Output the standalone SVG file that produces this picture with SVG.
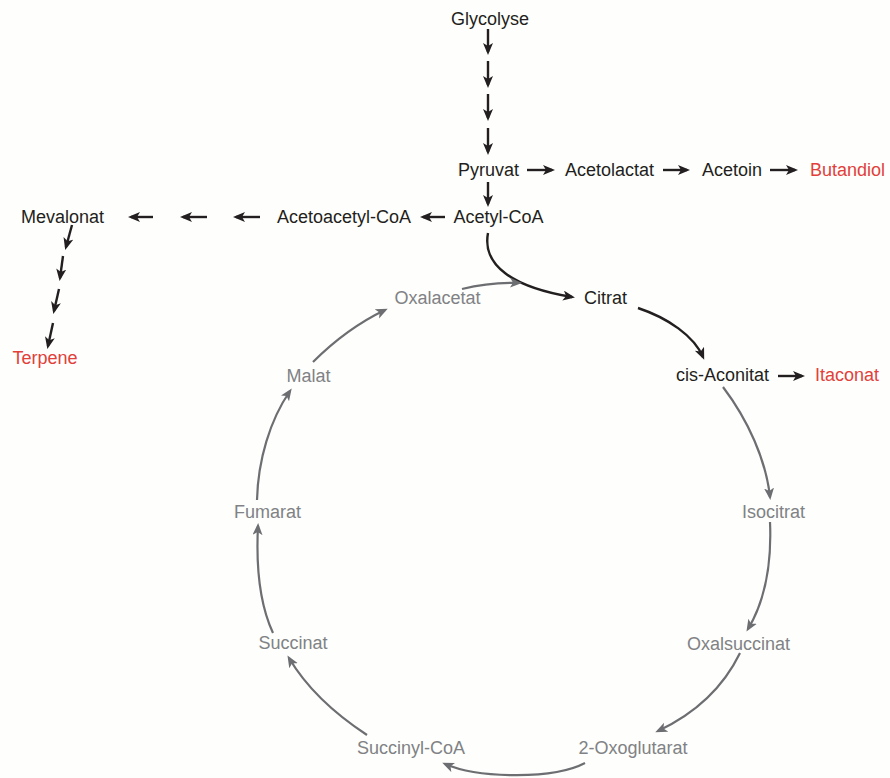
<svg xmlns="http://www.w3.org/2000/svg" width="890" height="778" viewBox="0 0 890 778">
<defs>
<marker id="ab" markerUnits="userSpaceOnUse" markerWidth="14" markerHeight="12" refX="9" refY="5" orient="auto"><path d="M0,0 L12,5 L0,10 L3,5 z" fill="#231f20"/></marker>
<marker id="ag" markerUnits="userSpaceOnUse" markerWidth="14" markerHeight="12" refX="9" refY="5" orient="auto"><path d="M0,0 L12,5 L0,10 L3,5 z" fill="#6d6e71"/></marker>
<style>
text{font-family:"Liberation Sans",Arial,sans-serif;font-size:18px;text-anchor:middle}
.k{fill:#231f20}.g{fill:#808285}.r{fill:#e2403a}
.cb{fill:none;stroke:#231f20;stroke-width:2.4;marker-end:url(#ab)}
.cg{fill:none;stroke:#6d6e71;stroke-width:2.2;marker-end:url(#ag)}
</style>
</defs>
<rect width="890" height="778" fill="#fefefc"/>
<g id="connectors">
<path class="cb" d="M488,29 V52"/>
<path class="cb" d="M488,61 V85"/>
<path class="cb" d="M488,94 V118"/>
<path class="cb" d="M488,128 V152"/>
<path class="cb" d="M488,182 V204"/>
<path class="cb" d="M527,170 H552"/>
<path class="cb" d="M663,170 H687"/>
<path class="cb" d="M770,170 H795"/>
<path class="cb" d="M445,217 H423"/>
<path class="cb" d="M260,217 H236"/>
<path class="cb" d="M207,217 H183"/>
<path class="cb" d="M153,217 H131"/>
<path class="cb" d="M72,225 L66,247"/>
<path class="cb" d="M63,256 L60,278"/>
<path class="cb" d="M59,289 L54,311"/>
<path class="cb" d="M53,323 L48,346"/>
<path class="cb" d="M488,233 C482,265 512,287 572,297"/>
<path class="cb" d="M638,308 C668,318 694,336 703,357"/>
<path class="cb" d="M778,376 H802"/>
<path class="cg" d="M462,289 Q490,282 519,283"/>
<path class="cg" d="M723,387 C748,420 766,460 770,497"/>
<path class="cg" d="M770,522 C772,568 763,604 748,629"/>
<path class="cg" d="M740,653 C722,690 692,715 658,731"/>
<path class="cg" d="M585,763 C555,779 480,779 445,764"/>
<path class="cg" d="M367,735 C332,712 305,685 289,658"/>
<path class="cg" d="M273,633 C260,605 256,565 258,526"/>
<path class="cg" d="M257,500 C258,460 270,420 290,391"/>
<path class="cg" d="M313,362 C335,340 360,322 385,310"/>
</g>
<g id="glycolyse"><text class="k" x="490" y="25">Glycolyse</text></g>
<g id="pyruvat"><text class="k" x="488.5" y="176">Pyruvat</text></g>
<g id="acetolactat"><text class="k" x="609.5" y="176">Acetolactat</text></g>
<g id="acetoin"><text class="k" x="732" y="176">Acetoin</text></g>
<g id="butandiol"><text class="r" x="847.5" y="176">Butandiol</text></g>
<g id="acetyl-coa"><text class="k" x="498.5" y="223">Acetyl-CoA</text></g>
<g id="acetoacetyl-coa"><text class="k" x="344" y="223">Acetoacetyl-CoA</text></g>
<g id="mevalonat"><text class="k" x="62.5" y="223">Mevalonat</text></g>
<g id="terpene"><text class="r" x="45" y="364">Terpene</text></g>
<g id="oxalacetat"><text class="g" x="437.5" y="304">Oxalacetat</text></g>
<g id="citrat"><text class="k" x="605.5" y="304">Citrat</text></g>
<g id="cis-aconitat"><text class="k" x="722.5" y="381">cis-Aconitat</text></g>
<g id="itaconat"><text class="r" x="847" y="381">Itaconat</text></g>
<g id="malat"><text class="g" x="308.5" y="382">Malat</text></g>
<g id="isocitrat"><text class="g" x="773.5" y="518">Isocitrat</text></g>
<g id="fumarat"><text class="g" x="267.5" y="518">Fumarat</text></g>
<g id="oxalsuccinat"><text class="g" x="738.5" y="650">Oxalsuccinat</text></g>
<g id="succinat"><text class="g" x="293" y="649">Succinat</text></g>
<g id="succinyl-coa"><text class="g" x="411" y="754">Succinyl-CoA</text></g>
<g id="oxoglutarat"><text class="g" x="633" y="754">2-Oxoglutarat</text></g>
</svg>
